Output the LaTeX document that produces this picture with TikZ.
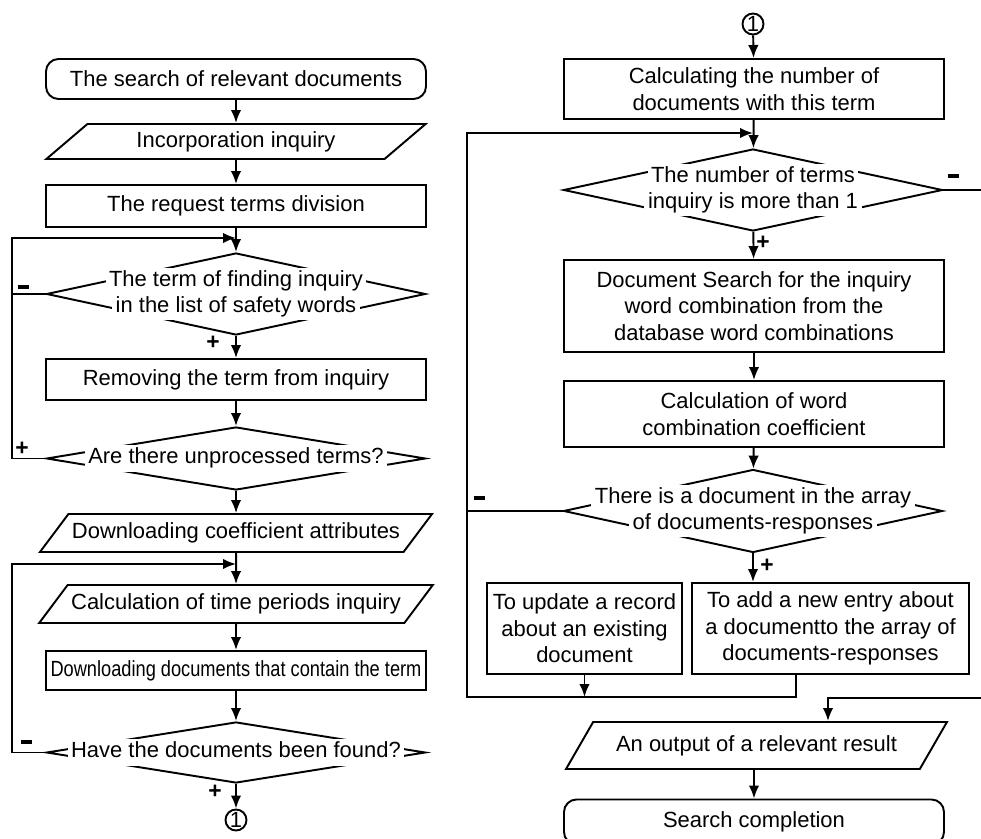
\documentclass[tikz,border=0pt]{standalone}
\usepackage{fontspec}
\setmainfont{Liberation Sans}
\usepackage{tikz}
\usetikzlibrary{positioning,shapes.geometric,arrows.meta}

% white strip behind one line of text inside a decision
\newcommand{\wline}[1]{{\setlength{\fboxsep}{0pt}\colorbox{white}{\strut\hspace{2pt}#1\hspace{2pt}}}}
% bold minus used on the "no" branches
\newcommand{\nomark}{\rule{0.22cm}{0.07cm}}

\begin{document}
\begin{tikzpicture}[
	font=\fontsize{12.5}{15}\selectfont,
	block/.style={rectangle, draw=black, line width=1.1pt, minimum width=7.6cm, align=center, inner sep=2pt},
	term/.style={block, rounded corners=0.25cm},
	io/.style={trapezium, trapezium left angle=44, trapezium right angle=136,
		trapezium stretches=true, draw=black, line width=1.1pt, minimum width=7.6cm, inner sep=2pt},
	decision/.style={diamond, draw=black, line width=1.1pt, minimum width=7.58cm, inner sep=0pt},
	dtext/.style={align=center, inner sep=0pt},
	conn/.style={circle, draw=black, line width=1.1pt, minimum size=0.42cm, inner sep=0pt},
	sign/.style={font=\fontsize{13}{15}\selectfont\bfseries, inner sep=0pt},
	line/.style={draw=black, line width=1.1pt},
	arr/.style={-{Latex[length=2.6mm,width=2.1mm]}}
	]

	\useasboundingbox (0,0) rectangle (19.62,-16.78);
	\clip (0,0) rectangle (19.62,-16.78);

	% --- LEFT COLUMN ---
	\node[term, minimum height=0.8cm] (start) at (4.72,-1.58) {The search of relevant documents};
	\node[io, minimum height=0.7cm] (inq) at (4.72,-2.83) {Incorporation inquiry};
	\node[block, minimum height=0.84cm] (div) at (4.72,-4.12) {The request terms division};
	\coordinate (j1) at (4.72,-4.76);
	\coordinate (lp1) at (0.24,-4.76);
	\node[decision, minimum height=1.64cm] (d1) at (4.72,-5.88) {};
	\node[dtext] (t1) at (d1) {\wline{The term of finding inquiry}\\\wline{in the list of safety words}};
	\node[block, minimum height=0.82cm] (rem) at (4.72,-7.59) {Removing the term from inquiry};
	\node[decision, minimum height=1.26cm] (d2) at (4.72,-9.17) {};
	\node[dtext] (t2) at (d2) {\wline{Are there unprocessed terms?}};
	\node[io, minimum height=0.76cm] (dca) at (4.72,-10.66) {Downloading coefficient attributes};
	\coordinate (j2) at (4.72,-11.28);
	\coordinate (lp2) at (0.24,-11.28);
	\node[io, minimum height=0.76cm] (ctp) at (4.72,-12.08) {Calculation of time periods inquiry};
	\node[block, minimum height=0.78cm] (ddc) at (4.72,-13.41) {\scalebox{0.83}[1]{Downloading documents that contain the term}};
	\node[decision, minimum height=1.22cm] (d3) at (4.72,-15.05) {};
	\node[dtext] (t3) at (d3) {\wline{Have the documents been found?}};
	\node[conn] (c1) at (4.72,-16.4) {1};

	\draw[line, arr] (start) -- (inq);
	\draw[line, arr] (inq) -- (div);
	\draw[line, arr] (div) -- (d1);
	\draw[line] (d1.west) -- (d1.west -| lp1);
	\draw[line, arr] (d2.west) -| (lp1) -- (j1);
	\draw[line, arr] (d1) -- (rem);
	\draw[line, arr] (rem) -- (d2);
	\draw[line, arr] (d2) -- (dca);
	\draw[line, arr] (dca) -- (ctp);
	\draw[line, arr] (d3.west) -| (lp2) -- (j2);
	\draw[line, arr] (ctp) -- (ddc);
	\draw[line, arr] (ddc) -- (d3);
	\draw[line, arr] (d3) -- (c1);

	\node[sign] (s1) at (0.46,-5.74) {\nomark};
	\node[sign] (s2) at (4.26,-6.86) {+};
	\node[sign] (s3) at (0.44,-8.98) {+};
	\node[sign] (s4) at (0.54,-14.84) {\nomark};
	\node[sign] (s5) at (4.30,-15.84) {+};

	% --- RIGHT COLUMN ---
	\node[conn] (c2) at (15.06,-0.48) {1};
	\node[block, minimum height=1.2cm] (cnt) at (15.08,-1.78) {Calculating the number of\\documents with this term};
	\coordinate (j3) at (15.06,-2.66);
	\coordinate (lp3) at (9.34,-2.66);
	\node[decision, minimum height=1.64cm] (d4) at (15.06,-3.8) {};
	\node[dtext] (t4) at (d4) {\wline{The number of terms}\\\wline{inquiry is more than 1}};
	\node[block, minimum height=1.84cm] (dsr) at (15.08,-6.12) {Document Search for the inquiry\\word combination from the\\database word combinations};
	\node[block, minimum height=1.32cm] (cwc) at (15.08,-8.28) {Calculation of word\\combination coefficient};
	\node[decision, minimum height=1.66cm] (d5) at (15.06,-10.22) {};
	\node[dtext] (t5) at (d5) {\wline{There is a document in the array}\\\wline{of documents-responses}};
	\node[block, minimum width=3.9cm, minimum height=1.82cm] (upd) at (11.69,-12.57) {To update a record\\about an existing\\document};
	\node[block, minimum width=5.54cm, minimum height=1.82cm] (add) at (16.61,-12.57) {To add a new entry about\\a documentto the array of\\documents-responses};
	\coordinate (m1) at (15.92,-13.94);
	\coordinate (m2) at (16.56,-13.96);
	\coordinate (rp) at (19.8,-13.96);
	\node[io, trapezium left angle=49, trapezium right angle=131, minimum width=7.62cm, minimum height=0.94cm] (out) at (15.13,-14.91) {An output of a relevant result};
	\node[term, minimum height=0.9cm] (fin) at (15.08,-16.44) {Search completion};

	\draw[line, arr] (c2) -- (cnt);
	\draw[line, arr] (cnt) -- (d4);
	\draw[line, arr] (d4) -- (dsr);
	\draw[line, arr] (dsr) -- (cwc);
	\draw[line, arr] (cwc) -- (d5);
	\draw[line] (d5.west) -- (d5.west -| lp3);
	\draw[line, arr] (d5) -- (d5 |- add.north);
	\draw[line, arr] (upd) -- (upd.south |- m1);
	\draw[line, arr] (add.south -| m1) -- (m1) -| (lp3) -- (j3);
	\draw[line, arr] (d4.east) -| (rp) -- (m2) -- (out.north -| m2);
	\draw[line, arr] (fin.north |- out.south) -- (fin.north);

	\node[sign] (s6) at (19.06,-3.52) {\nomark};
	\node[sign] (s7) at (15.26,-4.86) {+};
	\node[sign] (s8) at (9.58,-9.96) {\nomark};
	\node[sign] (s9) at (15.34,-11.32) {+};

\end{tikzpicture}
\end{document}
